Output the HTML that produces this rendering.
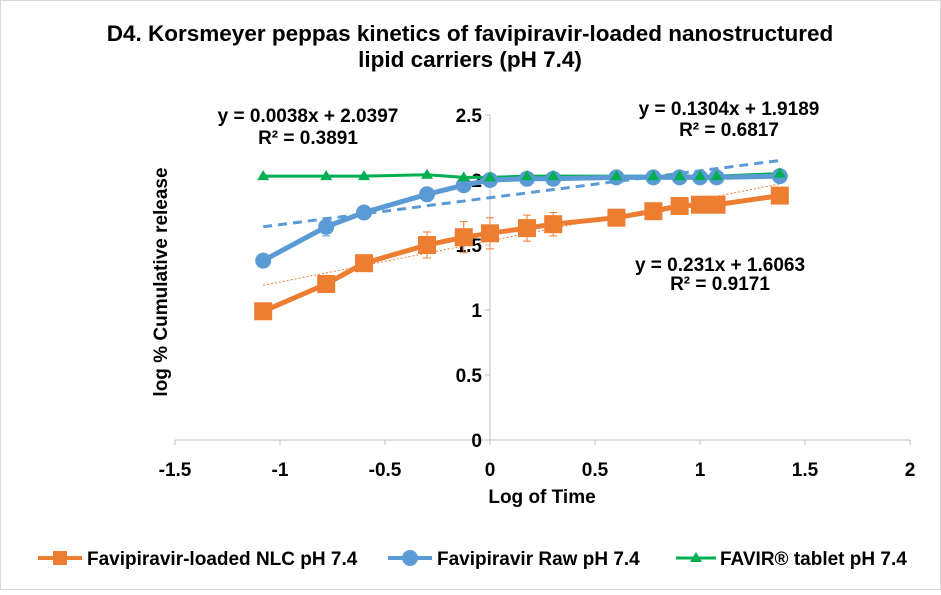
<!DOCTYPE html>
<html><head><meta charset="utf-8"><style>
body{margin:0;background:#fff;font-family:"Liberation Sans",Arial,sans-serif}
svg text{font-family:"Liberation Sans",Arial,sans-serif}
</style></head><body>
<svg id="chart" width="941" height="590">
<rect x="0.5" y="0.5" width="940" height="589" fill="#fff" stroke="#d9d9d9"/>
<text x="470" y="41" text-anchor="middle" font-size="22.5" font-weight="bold">D4. Korsmeyer peppas kinetics of favipiravir-loaded nanostructured</text>
<text x="470" y="67" text-anchor="middle" font-size="22.5" font-weight="bold">lipid carriers (pH 7.4)</text>
<g id="axes"></g>
<g id="series"></g>
<text x="308" y="122" text-anchor="middle" font-size="19" font-weight="bold">y = 0.0038x + 2.0397</text>
<text x="308" y="144" text-anchor="middle" font-size="19" font-weight="bold">R² = 0.3891</text>
<text x="729" y="115" text-anchor="middle" font-size="19" font-weight="bold">y = 0.1304x + 1.9189</text>
<text x="729" y="136" text-anchor="middle" font-size="19" font-weight="bold">R² = 0.6817</text>
<text x="720" y="271" text-anchor="middle" font-size="19" font-weight="bold">y = 0.231x + 1.6063</text>
<text x="720" y="290" text-anchor="middle" font-size="19" font-weight="bold">R² = 0.9171</text>
<text x="542" y="503" text-anchor="middle" font-size="19" font-weight="bold">Log of Time</text>
<text transform="translate(167,282) rotate(-90)" text-anchor="middle" font-size="19" font-weight="bold">log % Cumulative release</text>
<g>
<g><line x1="38" y1="558" x2="82" y2="558" stroke="#ed7d31" stroke-width="4"/><rect x="53" y="551" width="14" height="14" fill="#ed7d31"/><text x="87" y="565" font-size="19" font-weight="bold">Favipiravir-loaded NLC pH 7.4</text></g>
<g><line x1="388" y1="558" x2="432" y2="558" stroke="#5b9bd5" stroke-width="4"/><circle cx="410" cy="558" r="8" fill="#5b9bd5"/><text x="437" y="565" font-size="19" font-weight="bold">Favipiravir Raw pH 7.4</text></g>
<g><line x1="676" y1="558" x2="716" y2="558" stroke="#00b050" stroke-width="3"/><polygon points="696,552 702,562 690,562" fill="#00b050"/><text x="720" y="565" font-size="19" font-weight="bold">FAVIR® tablet pH 7.4</text></g>
</g>
</svg>
<script>
const xVals=[-1.08,-0.78,-0.6,-0.3,-0.125,0,0.176,0.301,0.602,0.778,0.903,1,1.079,1.38];
const nlcVals=[0.99,1.2,1.36,1.5,1.56,1.59,1.63,1.66,1.71,1.76,1.8,1.81,1.81,1.88];
const nlcErr=[0,0,0.06,0.1,0.12,0.12,0.1,0.09,0.06,0,0,0,0,0];
const rawVals=[1.38,1.64,1.75,1.89,1.96,2.0,2.01,2.01,2.02,2.02,2.02,2.02,2.02,2.03];
const rawErr=[0,0.07,0.05,0.03,0,0,0,0,0,0,0,0,0,0];
const tabVals=[2.03,2.03,2.03,2.04,2.02,2.02,2.03,2.03,2.03,2.03,2.03,2.03,2.03,2.05];
const nlcTrend=[1.19,1.97];
const rawTrend=[1.64,2.15];
const xTicks=[-1.5,-1,-0.5,0,0.5,1,1.5,2];
const yTicks=[0,0.5,1,1.5,2,2.5];
const X=v=>490+v*210, Y=v=>440-v*130;
const NS='http://www.w3.org/2000/svg';
function mk(tag,attrs,parent){const e=document.createElementNS(NS,tag);for(const k in attrs)e.setAttribute(k,attrs[k]);parent.appendChild(e);return e;}
const ax=document.getElementById('axes'), sr=document.getElementById('series');
let xl=mk('line',{x1:X(-1.5),x2:X(2),y1:Y(0),y2:Y(0),stroke:'#bfbfbf'},ax);


let yl=mk('line',{x1:X(0),x2:X(0),y1:Y(0),y2:Y(2.5),stroke:'#bfbfbf'},ax);


xTicks.forEach(t=>{mk('line',{x1:X(t),x2:X(t),y1:Y(0),y2:Y(0)+5,stroke:'#bfbfbf'},ax);
 const tx=mk('text',{x:X(t),y:Y(0)+36,'text-anchor':'middle','font-size':19,'font-weight':'bold'},ax);tx.textContent=t;
 
 });
yTicks.forEach(t=>{mk('line',{x1:X(0)-5,x2:X(0),y1:Y(t),y2:Y(t),stroke:'#bfbfbf'},ax);
 const tx=mk('text',{x:X(0)-8,y:Y(t)+7,'text-anchor':'end','font-size':19,'font-weight':'bold'},ax);tx.textContent=t;
 
 });
function pts(vals){return xVals.map((x,i)=>X(x)+','+Y(vals[i])).join(' ');}
function errs(vals,err,col){vals.forEach((v,i)=>{if(!err[i])return;const x=X(xVals[i]);
 const g=mk('path',{d:`M${x},${Y(v-err[i])}V${Y(v+err[i])}M${x-4},${Y(v-err[i])}h8M${x-4},${Y(v+err[i])}h8`,stroke:col,fill:'none','stroke-width':1},sr);
 
 });}
let t1=mk('line',{x1:X(xVals[0]),x2:X(xVals[13]),y1:Y(nlcTrend[0]),y2:Y(nlcTrend[1]),stroke:'#ed7d31','stroke-width':1,'stroke-dasharray':'2,2'},sr);


let t2=mk('line',{x1:X(xVals[0]),x2:X(xVals[13]),y1:Y(rawTrend[0]),y2:Y(rawTrend[1]),stroke:'#5b9bd5','stroke-width':3,'stroke-dasharray':'9,6'},sr);


errs(nlcVals,nlcErr,'#ed7d31');errs(rawVals,rawErr,'#5b9bd5');
let l3=mk('polyline',{points:pts(tabVals),fill:'none',stroke:'#00b050','stroke-width':3},sr);


let l2=mk('polyline',{points:pts(rawVals),fill:'none',stroke:'#5b9bd5','stroke-width':5},sr);


let l1=mk('polyline',{points:pts(nlcVals),fill:'none',stroke:'#ed7d31','stroke-width':5},sr);


xVals.forEach((x,i)=>{
 const c=mk('circle',{cx:X(x),cy:Y(rawVals[i]),r:8,fill:'#5b9bd5'},sr);
 
 
 const r=mk('rect',{x:X(x)-9,y:Y(nlcVals[i])-9,width:18,height:18,fill:'#ed7d31'},sr);
 
 
 const px=X(x),py=Y(tabVals[i]);
 const p=mk('polygon',{points:`${px},${py-6} ${px+6},${py+4} ${px-6},${py+4}`,fill:'#00b050'},sr);
 
 
});
</script>
</body></html>
